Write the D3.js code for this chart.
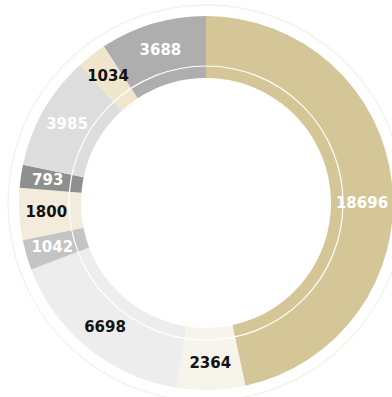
<!DOCTYPE html>
<html>
<head>
<meta charset="utf-8">
<script src="https://cdn.jsdelivr.net/npm/d3@7/dist/d3.min.js"></script>
<style>
  html, body { margin: 0; padding: 0; background: #fff; overflow: hidden; }
  svg { display: block; }
  .lbl { font-family: "DejaVu Sans", sans-serif; font-weight: bold; font-size: 15px; }
</style>
</head>
<body>
<svg id="chart" width="392" height="397"></svg>
<script>
// Segments, clockwise from 12 o'clock
const categories = ["S1", "S2", "S3", "S4", "S5", "S6", "S7", "S8", "S9"];
const values     = [18696, 2364, 6698, 1042, 1800, 793, 3985, 1034, 3688];
const fills      = ["#d5c698", "#f7f4ec", "#ededed", "#c4c4c4", "#f3ecdc",
                    "#8f8f8f", "#dddddd", "#efe6cc", "#aeaeae"];
const labelInk   = ["#fff", "#111", "#111", "#fff", "#111", "#fff", "#fff", "#111", "#fff"];

// Layout
const cx = 206, cy = 203;
const rInner = 125, rOuter = 187, rRing = 137, rHalo = 198, rLabel = 160;
// per-label nudges (angle in degrees, radius in px) to keep text clear of the edge
const labelNudge = { S1: { turn: 6, dr: -4 } };

const rows = categories.map((c, i) => ({ name: c, value: values[i], fill: fills[i], ink: labelInk[i] }));

const svg = d3.select("#chart");
const g = svg.append("g").attr("transform", `translate(${cx},${cy})`);

// faint outer halo
g.append("circle").attr("r", rHalo)
  .attr("fill", "none").attr("stroke", "#f4f2e7").attr("stroke-width", 1.3);

const pie = d3.pie().value(d => d.value).sort(null);
const arcs = pie(rows);
const arc = d3.arc().innerRadius(rInner).outerRadius(rOuter);

g.selectAll("path.slice").data(arcs).join("path")
  .attr("class", "slice")
  .attr("d", arc)
  .attr("fill", d => d.data.fill);

// thin white inner ring
g.append("circle").attr("r", rRing)
  .attr("fill", "none").attr("stroke", "#fff").attr("stroke-width", 1.2);

// value labels
g.selectAll("text.lbl").data(arcs).join("text")
  .attr("class", "lbl")
  .attr("text-anchor", "middle")
  .attr("dominant-baseline", "central")
  .attr("fill", d => d.data.ink)
  .attr("transform", d => {
    const n = labelNudge[d.data.name] || { turn: 0, dr: 0 };
    const a = (d.startAngle + d.endAngle) / 2 + n.turn * Math.PI / 180;
    const r = rLabel + n.dr;
    return `translate(${r * Math.sin(a)},${-r * Math.cos(a)})`;
  })
  .text(d => d.data.value);
</script>
</body>
</html>
